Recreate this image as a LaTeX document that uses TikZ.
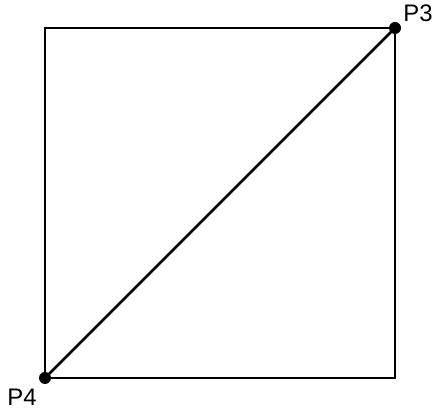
\documentclass[tikz,border=0pt]{standalone}
\usepackage{fontspec}
\setmainfont{Liberation Sans}
\usetikzlibrary{calc}

\begin{document}
\begin{tikzpicture}[x=0.025cm, y=-0.025cm, line width=1.8pt,
  punto/.style={circle, fill=black, inner sep=0pt, minimum size=0.3cm},
  etiqueta/.style={font=\fontsize{17}{19}\selectfont, inner sep=0pt}]
  \useasboundingbox (0,0) rectangle (434,411);
  % esquinas del cuadrado
  \coordinate (A) at (45,28);
  \coordinate (B) at (395,28);
  \coordinate (C) at (395,378);
  \coordinate (D) at (45,378);
  \draw (A)--(B)--(C)--(D)--cycle;
  % diagonal
  \draw (D)--(B);
  \node[punto] (p3) at (B) {};
  \node[punto] (p4) at (D) {};
  \node[etiqueta] (l3) at (418,13) {P3};
  \node[etiqueta] (l4) at (22,397) {P4};
\end{tikzpicture}
\end{document}
